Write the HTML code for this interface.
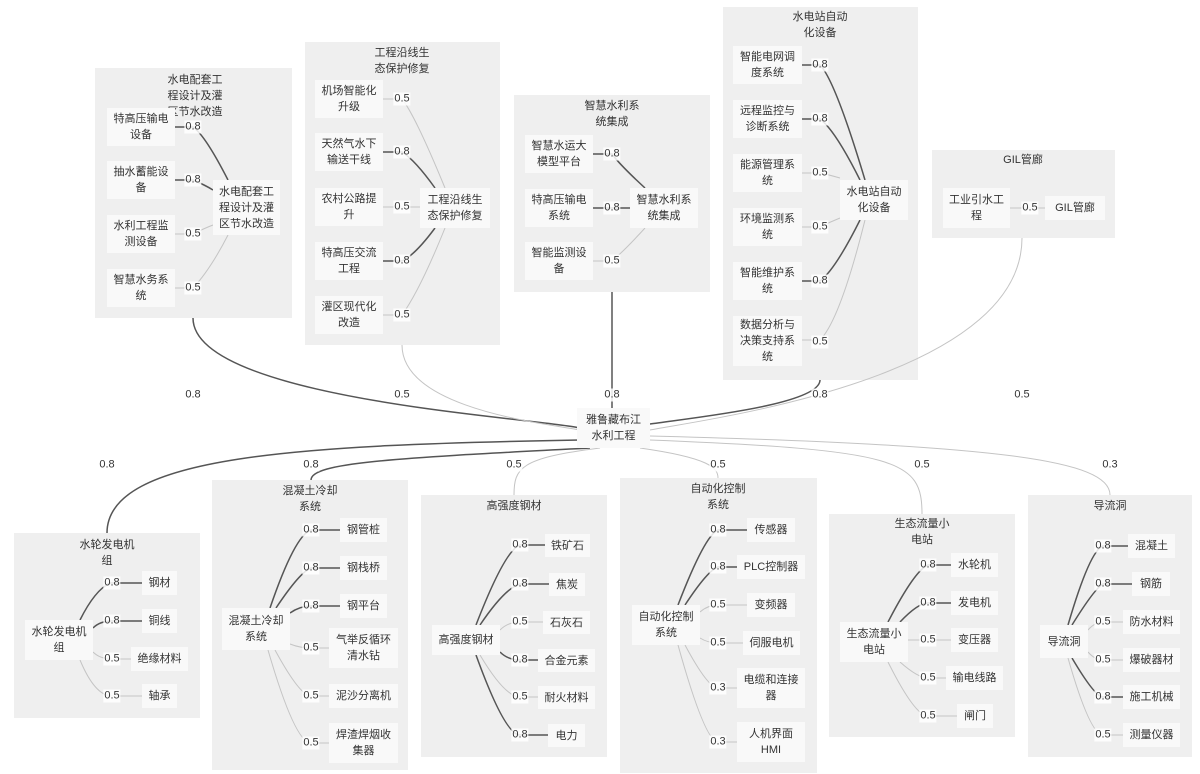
<!DOCTYPE html>
<html><head><meta charset="utf-8"><style>
body{margin:0;width:1200px;height:774px;background:#fff;position:relative;overflow:hidden;font-family:"Liberation Sans","Noto Sans CJK SC",sans-serif;color:#333}
.c{position:absolute;background:#efefef}
.n{position:absolute;background:#f9f9f9;font-size:11px;line-height:16px;display:flex;align-items:center;justify-content:center;text-align:center}
.t{position:absolute;font-size:11px;line-height:16px;text-align:center;transform:translateX(-50%);white-space:nowrap}
.l{position:absolute;font-size:11px;line-height:13px;background:rgba(255,255,255,.85);padding:0 1px;transform:translate(-50%,-50%)}
svg{position:absolute;left:0;top:0}
.d{stroke:#555;stroke-width:1.5;fill:none}
.g{stroke:#c4c4c4;stroke-width:1;fill:none}
</style></head><body>
<div class="c" style="left:95px;top:68px;width:197px;height:250px"></div>
<div class="c" style="left:305px;top:42px;width:195px;height:303px"></div>
<div class="c" style="left:514px;top:95px;width:196px;height:197px"></div>
<div class="c" style="left:723px;top:7px;width:195px;height:373px"></div>
<div class="c" style="left:932px;top:150px;width:183px;height:88px"></div>
<div class="c" style="left:14px;top:533px;width:186px;height:185px"></div>
<div class="c" style="left:212px;top:480px;width:196px;height:290px"></div>
<div class="c" style="left:421px;top:495px;width:186px;height:262px"></div>
<div class="c" style="left:620px;top:478px;width:197px;height:295px"></div>
<div class="c" style="left:829px;top:514px;width:186px;height:223px"></div>
<div class="c" style="left:1028px;top:495px;width:164px;height:262px"></div>

<svg width="1200" height="774">
<g class="d">
<path d="M193 318 C193 400 540 418 580 428"/>
<path d="M612 292 L612 408"/>
<path d="M820 380 C820 405 690 418 650 424"/>
<path d="M580 440 C300 445 107 455 107 533"/>
<path d="M590 448 C400 458 311 462 311 480"/>
<path d="M175 127 L193 127 Q205 135 228 180"/><path d="M175 180 L193 180 Q205 185 213 190"/>
<path d="M383 152 L402 152 Q415 160 435 188"/><path d="M383 261 L402 261 Q415 255 435 228"/>
<path d="M593 154 L612 154 Q620 165 645 188"/><path d="M593 208 L630 208"/>
<path d="M802 65 L820 65 Q835 80 865 180"/><path d="M802 119 L820 119 Q835 130 860 180"/><path d="M802 281 L820 281 Q835 270 860 220"/>
<path d="M80 620 Q95 590 110 583 L142 583"/><path d="M93 628 Q100 621 112 621 L142 621"/>
<path d="M270 608 Q295 535 311 530 L340 530"/><path d="M276 608 Q300 572 311 568 L340 568"/><path d="M290 613 Q300 606 311 606 L340 606"/>
<path d="M476 625 Q505 550 520 545 L545 545"/><path d="M480 625 Q505 588 520 584 L549 584"/><path d="M500 652 Q508 660 520 660 L538 660"/><path d="M476 655 Q505 735 520 735 L548 735"/>
<path d="M678 605 Q705 535 718 530 L747 530"/><path d="M685 605 Q708 570 718 567 L737 567"/>
<path d="M888 622 Q915 570 928 565 L951 565"/><path d="M900 622 Q918 603 928 603 L951 603"/>
<path d="M1068 625 Q1090 550 1103 546 L1128 546"/><path d="M1072 625 Q1095 588 1103 584 L1132 584"/><path d="M1072 658 Q1095 697 1103 697 L1123 697"/>
</g>
<g class="g">
<path d="M402 345 C402 410 550 424 580 430"/>
<path d="M1022 238 C1022 380 700 420 650 430"/>
<path d="M600 448 C520 458 514 468 514 495"/>
<path d="M640 448 C710 458 718 468 718 478"/>
<path d="M650 440 C900 450 922 460 922 514"/>
<path d="M650 436 C1000 445 1110 460 1110 495"/>
<path d="M175 234 L193 234 Q205 228 213 225"/><path d="M175 288 L193 288 Q210 270 228 235"/>
<path d="M383 99 L402 99 Q415 115 445 188"/><path d="M383 207 L420 207"/><path d="M383 315 L402 315 Q420 290 445 228"/>
<path d="M593 261 L612 261 Q625 250 645 228"/>
<path d="M802 173 L820 173 Q830 175 840 178"/><path d="M802 227 L820 227 Q830 222 840 218"/><path d="M802 340 L820 340 Q840 320 865 220"/>
<path d="M1010 208 L1045 208"/>
<path d="M93 652 Q100 659 112 659 L131 659"/><path d="M80 660 Q95 696 112 696 L142 696"/>
<path d="M290 644 Q300 648 311 648 L329 648"/><path d="M275 650 Q300 696 311 696 L329 696"/><path d="M268 650 Q295 743 311 743 L329 743"/>
<path d="M500 630 Q508 622 520 622 L543 622"/><path d="M480 655 Q505 697 520 697 L538 697"/>
<path d="M700 612 Q708 605 718 605 L747 605"/><path d="M700 638 Q708 643 718 643 L743 643"/><path d="M685 645 Q708 688 718 688 L737 688"/><path d="M678 645 Q705 742 718 742 L737 742"/>
<path d="M908 640 L951 640"/><path d="M900 662 Q918 678 928 678 L946 678"/><path d="M888 662 Q915 716 928 716 L957 716"/>
<path d="M1088 630 Q1095 622 1103 622 L1123 622"/><path d="M1088 652 Q1095 660 1103 660 L1123 660"/><path d="M1068 658 Q1090 735 1103 735 L1123 735"/>
</g>
</svg>

<!-- titles -->
<div class="t" style="left:195px;top:72px">水电配套工<br>程设计及灌<br>区节水改造</div>
<div class="t" style="left:402px;top:45px">工程沿线生<br>态保护修复</div>
<div class="t" style="left:612px;top:98px">智慧水利系<br>统集成</div>
<div class="t" style="left:820px;top:9px">水电站自动<br>化设备</div>
<div class="t" style="left:1023px;top:152px">GIL管廊</div>
<div class="t" style="left:107px;top:537px">水轮发电机<br>组</div>
<div class="t" style="left:310px;top:483px">混凝土冷却<br>系统</div>
<div class="t" style="left:514px;top:498px">高强度钢材</div>
<div class="t" style="left:718px;top:481px">自动化控制<br>系统</div>
<div class="t" style="left:922px;top:516px">生态流量小<br>电站</div>
<div class="t" style="left:1110px;top:498px">导流洞</div>

<!-- center -->
<div class="n" style="left:577px;top:408px;width:73px;height:40px">雅鲁藏布江<br>水利工程</div>

<!-- top cluster nodes -->
<div class="n" style="left:107px;top:108px;width:68px;height:38px">特高压输电<br>设备</div>
<div class="n" style="left:107px;top:161px;width:68px;height:38px">抽水蓄能设<br>备</div>
<div class="n" style="left:107px;top:215px;width:68px;height:38px">水利工程监<br>测设备</div>
<div class="n" style="left:107px;top:269px;width:68px;height:38px">智慧水务系<br>统</div>
<div class="n" style="left:213px;top:180px;width:67px;height:55px">水电配套工<br>程设计及灌<br>区节水改造</div>

<div class="n" style="left:315px;top:80px;width:68px;height:38px">机场智能化<br>升级</div>
<div class="n" style="left:315px;top:133px;width:68px;height:38px">天然气水下<br>输送干线</div>
<div class="n" style="left:315px;top:188px;width:68px;height:38px">农村公路提<br>升</div>
<div class="n" style="left:315px;top:242px;width:68px;height:38px">特高压交流<br>工程</div>
<div class="n" style="left:315px;top:296px;width:68px;height:38px">灌区现代化<br>改造</div>
<div class="n" style="left:420px;top:188px;width:70px;height:40px">工程沿线生<br>态保护修复</div>

<div class="n" style="left:525px;top:135px;width:68px;height:38px">智慧水运大<br>模型平台</div>
<div class="n" style="left:525px;top:189px;width:68px;height:38px">特高压输电<br>系统</div>
<div class="n" style="left:525px;top:242px;width:68px;height:38px">智能监测设<br>备</div>
<div class="n" style="left:630px;top:188px;width:68px;height:40px">智慧水利系<br>统集成</div>

<div class="n" style="left:733px;top:46px;width:69px;height:38px">智能电网调<br>度系统</div>
<div class="n" style="left:733px;top:100px;width:69px;height:38px">远程监控与<br>诊断系统</div>
<div class="n" style="left:733px;top:154px;width:69px;height:38px">能源管理系<br>统</div>
<div class="n" style="left:733px;top:208px;width:69px;height:38px">环境监测系<br>统</div>
<div class="n" style="left:733px;top:262px;width:69px;height:38px">智能维护系<br>统</div>
<div class="n" style="left:733px;top:316px;width:69px;height:50px">数据分析与<br>决策支持系<br>统</div>
<div class="n" style="left:840px;top:180px;width:68px;height:40px">水电站自动<br>化设备</div>

<div class="n" style="left:943px;top:188px;width:67px;height:40px">工业引水工<br>程</div>
<div class="n" style="left:1045px;top:196px;width:60px;height:24px">GIL管廊</div>

<!-- bottom nodes -->
<div class="n" style="left:25px;top:620px;width:68px;height:40px">水轮发电机<br>组</div>
<div class="n" style="left:142px;top:571px;width:35px;height:24px">钢材</div>
<div class="n" style="left:142px;top:609px;width:35px;height:24px">铜线</div>
<div class="n" style="left:131px;top:647px;width:57px;height:24px">绝缘材料</div>
<div class="n" style="left:142px;top:684px;width:35px;height:24px">轴承</div>

<div class="n" style="left:222px;top:608px;width:68px;height:42px">混凝土冷却<br>系统</div>
<div class="n" style="left:340px;top:518px;width:47px;height:24px">钢管桩</div>
<div class="n" style="left:340px;top:556px;width:47px;height:24px">钢栈桥</div>
<div class="n" style="left:340px;top:594px;width:47px;height:24px">钢平台</div>
<div class="n" style="left:329px;top:628px;width:69px;height:40px">气举反循环<br>清水钻</div>
<div class="n" style="left:329px;top:684px;width:69px;height:24px">泥沙分离机</div>
<div class="n" style="left:329px;top:723px;width:69px;height:40px">焊渣焊烟收<br>集器</div>

<div class="n" style="left:432px;top:625px;width:68px;height:30px">高强度钢材</div>
<div class="n" style="left:545px;top:534px;width:45px;height:23px">铁矿石</div>
<div class="n" style="left:549px;top:573px;width:36px;height:23px">焦炭</div>
<div class="n" style="left:543px;top:611px;width:47px;height:23px">石灰石</div>
<div class="n" style="left:538px;top:649px;width:57px;height:23px">合金元素</div>
<div class="n" style="left:538px;top:686px;width:57px;height:23px">耐火材料</div>
<div class="n" style="left:548px;top:724px;width:37px;height:23px">电力</div>

<div class="n" style="left:632px;top:605px;width:68px;height:40px">自动化控制<br>系统</div>
<div class="n" style="left:747px;top:518px;width:48px;height:24px">传感器</div>
<div class="n" style="left:737px;top:555px;width:68px;height:24px">PLC控制器</div>
<div class="n" style="left:747px;top:593px;width:48px;height:24px">变频器</div>
<div class="n" style="left:743px;top:631px;width:57px;height:24px">伺服电机</div>
<div class="n" style="left:737px;top:668px;width:68px;height:40px">电缆和连接<br>器</div>
<div class="n" style="left:737px;top:722px;width:68px;height:40px">人机界面<br>HMI</div>

<div class="n" style="left:840px;top:622px;width:68px;height:40px">生态流量小<br>电站</div>
<div class="n" style="left:951px;top:553px;width:47px;height:24px">水轮机</div>
<div class="n" style="left:951px;top:591px;width:47px;height:24px">发电机</div>
<div class="n" style="left:951px;top:628px;width:47px;height:24px">变压器</div>
<div class="n" style="left:946px;top:666px;width:57px;height:24px">输电线路</div>
<div class="n" style="left:957px;top:704px;width:36px;height:24px">闸门</div>

<div class="n" style="left:1040px;top:625px;width:48px;height:33px">导流洞</div>
<div class="n" style="left:1128px;top:534px;width:47px;height:24px">混凝土</div>
<div class="n" style="left:1132px;top:572px;width:38px;height:24px">钢筋</div>
<div class="n" style="left:1123px;top:610px;width:57px;height:24px">防水材料</div>
<div class="n" style="left:1123px;top:648px;width:57px;height:24px">爆破器材</div>
<div class="n" style="left:1123px;top:685px;width:57px;height:24px">施工机械</div>
<div class="n" style="left:1123px;top:723px;width:57px;height:24px">测量仪器</div>

<!-- labels -->
<span class="l" style="left:193px;top:395px">0.8</span>
<span class="l" style="left:402px;top:395px">0.5</span>
<span class="l" style="left:612px;top:395px">0.8</span>
<span class="l" style="left:820px;top:395px">0.8</span>
<span class="l" style="left:1022px;top:395px">0.5</span>
<span class="l" style="left:107px;top:465px">0.8</span>
<span class="l" style="left:311px;top:465px">0.8</span>
<span class="l" style="left:514px;top:465px">0.5</span>
<span class="l" style="left:718px;top:465px">0.5</span>
<span class="l" style="left:922px;top:465px">0.5</span>
<span class="l" style="left:1110px;top:465px">0.3</span>

<span class="l" style="left:193px;top:127px">0.8</span><span class="l" style="left:193px;top:180px">0.8</span><span class="l" style="left:193px;top:234px">0.5</span><span class="l" style="left:193px;top:288px">0.5</span>
<span class="l" style="left:402px;top:99px">0.5</span><span class="l" style="left:402px;top:152px">0.8</span><span class="l" style="left:402px;top:207px">0.5</span><span class="l" style="left:402px;top:261px">0.8</span><span class="l" style="left:402px;top:315px">0.5</span>
<span class="l" style="left:612px;top:154px">0.8</span><span class="l" style="left:612px;top:208px">0.8</span><span class="l" style="left:612px;top:261px">0.5</span>
<span class="l" style="left:820px;top:65px">0.8</span><span class="l" style="left:820px;top:119px">0.8</span><span class="l" style="left:820px;top:173px">0.5</span><span class="l" style="left:820px;top:227px">0.5</span><span class="l" style="left:820px;top:281px">0.8</span><span class="l" style="left:820px;top:342px">0.5</span>
<span class="l" style="left:1030px;top:208px">0.5</span>

<span class="l" style="left:112px;top:583px">0.8</span><span class="l" style="left:112px;top:621px">0.8</span><span class="l" style="left:112px;top:659px">0.5</span><span class="l" style="left:112px;top:696px">0.5</span>
<span class="l" style="left:311px;top:530px">0.8</span><span class="l" style="left:311px;top:568px">0.8</span><span class="l" style="left:311px;top:606px">0.8</span><span class="l" style="left:311px;top:648px">0.5</span><span class="l" style="left:311px;top:696px">0.5</span><span class="l" style="left:311px;top:743px">0.5</span>
<span class="l" style="left:520px;top:545px">0.8</span><span class="l" style="left:520px;top:584px">0.8</span><span class="l" style="left:520px;top:622px">0.5</span><span class="l" style="left:520px;top:660px">0.8</span><span class="l" style="left:520px;top:697px">0.5</span><span class="l" style="left:520px;top:735px">0.8</span>
<span class="l" style="left:718px;top:530px">0.8</span><span class="l" style="left:718px;top:567px">0.8</span><span class="l" style="left:718px;top:605px">0.5</span><span class="l" style="left:718px;top:643px">0.5</span><span class="l" style="left:718px;top:688px">0.3</span><span class="l" style="left:718px;top:742px">0.3</span>
<span class="l" style="left:928px;top:565px">0.8</span><span class="l" style="left:928px;top:603px">0.8</span><span class="l" style="left:928px;top:640px">0.5</span><span class="l" style="left:928px;top:678px">0.5</span><span class="l" style="left:928px;top:716px">0.5</span>
<span class="l" style="left:1103px;top:546px">0.8</span><span class="l" style="left:1103px;top:584px">0.8</span><span class="l" style="left:1103px;top:622px">0.5</span><span class="l" style="left:1103px;top:660px">0.5</span><span class="l" style="left:1103px;top:697px">0.8</span><span class="l" style="left:1103px;top:735px">0.5</span>
</body></html>
